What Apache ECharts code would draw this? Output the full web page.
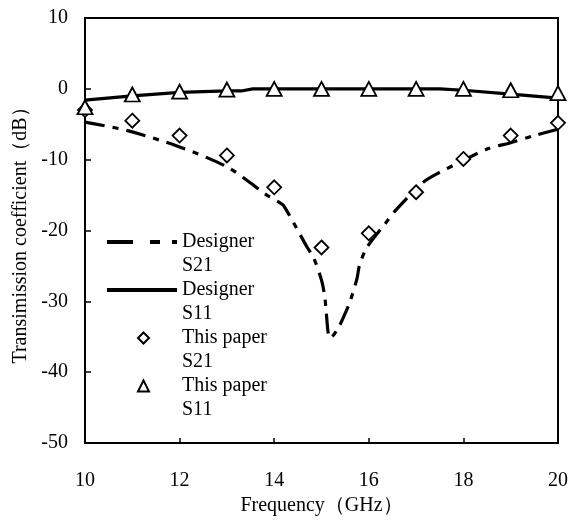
<!DOCTYPE html>
<html>
<head>
<meta charset="utf-8">
<script src="https://cdn.jsdelivr.net/npm/echarts@6/dist/echarts.min.js"></script>
<style>html,body{margin:0;padding:0;background:#fff}#c{width:571px;height:525px}</style>
</head>
<body>
<div id="c"></div>
<script>
// Designer S21 (simulated curve)
var designerS21X = [10, 10.9, 12, 13, 13.5, 13.8, 14.1, 14.2, 14.7, 14.83, 15.0, 15.07, 15.1, 15.14, 15.18, 15.35, 15.5, 15.6, 15.75, 15.8, 15.96, 16.35, 16.6, 17.15, 17.44, 18, 18.5, 19, 19.5, 20];
var designerS21Y = [-4.7, -5.9, -8.2, -11.0, -13.3, -14.8, -16.0, -16.5, -22.4, -23.8, -27.0, -29.4, -31.5, -34.4, -35.2, -33.8, -31.7, -30.1, -26.8, -25.0, -22.4, -19.0, -16.9, -13.2, -12.0, -10.1, -8.5, -7.6, -6.6, -5.7];
// Designer S11 (simulated curve)
var designerS11X = [10, 11, 12, 13, 13.3, 13.55, 14, 15, 16, 17, 17.5, 18, 19, 20];
var designerS11Y = [-1.6, -1.0, -0.5, -0.3, -0.3, 0, 0, 0, 0, 0, 0, -0.2, -0.75, -1.3];
// This paper (measured markers)
var paperX = [10, 11, 12, 13, 14, 15, 16, 17, 18, 19, 20];
var paperS21 = [-3.0, -4.5, -6.6, -9.4, -13.9, -22.4, -20.4, -14.6, -9.9, -6.6, -4.8];
var paperS11 = [-2.6, -0.8, -0.4, -0.1, 0, 0, 0, 0, 0, -0.2, -0.6];

var xTicks = [10, 12, 14, 16, 18, 20];
var yTicks = [-50, -40, -30, -20, -10, 0, 10];
var seriesNames = ['Designer\nS21', 'Designer\nS11', 'This paper\nS21', 'This paper\nS11'];

function zip(a, b) { return a.map(function (v, i) { return [v, b[i]]; }); }

var serif = 'Liberation Serif, Times New Roman, serif';
var richStyle = {
  fontFamily: serif, fontSize: 20, color: '#000',
  rich: {
    sp: { fontFamily: serif, fontSize: 20, lineHeight: 24 },
    w: { width: 28, fontSize: 20, lineHeight: 24 },
    t: { fontFamily: serif, fontSize: 20, lineHeight: 24, color: '#000' }
  }
};
function fmtLine(name) {
  var p = name.split('\n');
  return '{sp| }\n{t|' + p[0] + '}\n{t|' + p[1] + '}';
}
function fmtMarker(name) {
  var p = name.split('\n');
  return '{sp| }\n{w| }{t|' + p[0] + '}\n{w| }{t|' + p[1] + '}';
}
var legendCenters = [241, 289, 337, 385];
function legendFor(i, opts) {
  return Object.assign({
    orient: 'vertical', top: legendCenters[i] - 33, padding: 0,
    selectedMode: false, textStyle: richStyle, data: [seriesNames[i]]
  }, opts);
}

var chart = echarts.init(document.getElementById('c'));
chart.setOption({
  animation: false,
  backgroundColor: '#fff',
  grid: { left: 85, right: 11, top: 18, bottom: 82, show: true, borderColor: '#000', borderWidth: 2, backgroundColor: 'transparent' },
  xAxis: {
    type: 'value', min: xTicks[0], max: xTicks[xTicks.length - 1], interval: 2,
    name: 'Frequency（GHz）', nameLocation: 'middle', nameGap: 52,
    nameTextStyle: { fontFamily: serif, fontSize: 20, color: '#000' },
    axisLine: { onZero: false, lineStyle: { color: '#000', width: 2 } },
    axisTick: { inside: true, length: 5, lineStyle: { color: '#000', width: 1.5 } },
    axisLabel: { fontFamily: serif, fontSize: 20, color: '#000', margin: 28 },
    splitLine: { show: false }
  },
  yAxis: {
    type: 'value', min: yTicks[0], max: yTicks[yTicks.length - 1], interval: 10,
    name: 'Transimission coefficient（dB）', nameLocation: 'middle', nameGap: 51, nameRotate: 90,
    nameTextStyle: { fontFamily: serif, fontSize: 20, color: '#000' },
    axisLine: { onZero: false, lineStyle: { color: '#000', width: 2 } },
    axisTick: { inside: true, length: 6, lineStyle: { color: '#000', width: 1.5 } },
    axisLabel: { fontFamily: serif, fontSize: 20, color: '#000', margin: 17 },
    splitLine: { show: false }
  },
  legend: [
    legendFor(0, {
      left: 107, itemWidth: 70, itemHeight: 4, formatter: fmtLine,
      data: [{ name: seriesNames[0], icon: 'path://M0,0h26v4h-26z M43,0h10v4h-10z M65,0h5v4h-5z', itemStyle: { color: '#000', borderWidth: 0 } }]
    }),
    legendFor(1, {
      left: 107, itemWidth: 70, itemHeight: 4, formatter: fmtLine,
      data: [{ name: seriesNames[1], icon: 'rect', itemStyle: { color: '#000', borderWidth: 0 } }]
    }),
    legendFor(2, {
      left: 137, itemWidth: 11, itemHeight: 11, formatter: fmtMarker,
      data: [{ name: seriesNames[2], icon: 'diamond' }]
    }),
    legendFor(3, {
      left: 137, itemWidth: 11, itemHeight: 11, formatter: fmtMarker,
      data: [{ name: seriesNames[3], icon: 'triangle' }]
    })
  ],
  series: [
    {
      name: seriesNames[0], type: 'line', data: zip(designerS21X, designerS21Y),
      symbol: 'none', smooth: 0.3, color: '#000',
      itemStyle: { color: '#000' },
      lineStyle: { color: '#000', width: 3.2, type: [20, 8, 6, 8] },
      z: 2
    },
    {
      name: seriesNames[1], type: 'line', data: zip(designerS11X, designerS11Y),
      symbol: 'none', color: '#000',
      itemStyle: { color: '#000' },
      lineStyle: { color: '#000', width: 3.2, type: 'solid' },
      z: 2
    },
    {
      name: seriesNames[2], type: 'scatter', data: zip(paperX, paperS21),
      symbol: 'diamond', symbolSize: 14,
      itemStyle: { color: '#fff', borderColor: '#000', borderWidth: 1.8, opacity: 1 },
      z: 3
    },
    {
      name: seriesNames[3], type: 'scatter', data: zip(paperX, paperS11),
      symbol: 'triangle', symbolSize: [15, 14],
      itemStyle: { color: '#fff', borderColor: '#000', borderWidth: 1.8, opacity: 1 },
      z: 3
    }
  ]
});
</script>
</body>
</html>
